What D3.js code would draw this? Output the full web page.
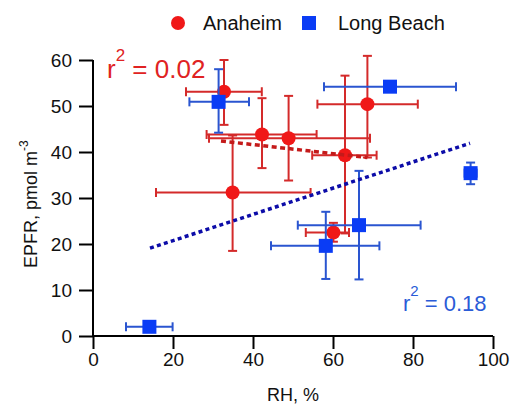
<!DOCTYPE html>
<html><head><meta charset="utf-8">
<script src="https://cdn.jsdelivr.net/npm/d3@7"></script>
<style>body{margin:0;background:#fff}svg{display:block;font-family:Arial,"Liberation Sans",sans-serif}</style>
</head><body>
<svg id="c" width="512" height="406"></svg>
<script>
// Anaheim
const anaRH    = [32.75, 42.25, 48.9, 34.9, 68.6, 63.0, 60.1];
const anaEPFR  = [53.1, 43.8, 43.0, 31.2, 50.4, 39.3, 22.5];
const anaRHlo  = [23.25, 28.4, 29.0, 15.75, 56.1, 54.8, 53.2];
const anaRHhi  = [42.2, 55.9, 69.25, 54.4, 81.2, 70.9, 64.0];
const anaEPlo  = [45.9, 36.5, 33.8, 18.5, 38.8, 22.3, 20.5];
const anaEPhi  = [60.0, 51.7, 52.2, 43.6, 60.9, 56.6, 24.6];
// Long Beach
const lbRH     = [31.4, 74.25, 94.4, 66.5, 58.2, 14.1];
const lbEPFR   = [50.9, 54.2, 35.4, 24.1, 19.6, 2.0];
const lbRHlo   = [24.1, 57.75, 92.9, 51.2, 44.5, 8.25];
const lbRHhi   = [39.0, 90.75, 95.9, 81.9, 71.6, 19.9];
const lbEPlo   = [44.2, 53.2, 33.0, 12.3, 12.4, 1.0];
const lbEPhi   = [58.0, 55.2, 37.7, 35.9, 27.0, 3.0];
// regression lines [x0, x1], [y0, y1]
const anaFitX = [32.0, 68.6], anaFitY = [42.4, 38.8];
const lbFitX  = [14.25, 94.25], lbFitY = [19.1, 41.9];
const xTicks = [0, 20, 40, 60, 80, 100];
const yTicks = [0, 10, 20, 30, 40, 50, 60];
const seriesNames = ["Anaheim", "Long Beach"];
const r2Labels = ["0.02", "0.18"];

const svg = d3.select("#c");
const x = d3.scaleLinear().domain([0, 100]).range([93, 493]);
const y = d3.scaleLinear().domain([0, 60]).range([336, 60]);

const RED = "#f01818", REDBAR = "#d42a2a", REDLINE = "#c41a1a";
const BLUE = "#0a3cf5", BLUEBAR = "#2a55d0", BLUELINE = "#0c0ca8";

// axes
const xa = svg.append("g").attr("transform", "translate(0,336)")
  .call(d3.axisBottom(x).tickValues(xTicks).tickSize(13).tickPadding(4).tickFormat(d3.format("d")));
const ya = svg.append("g").attr("transform", "translate(93,0)")
  .call(d3.axisLeft(y).tickValues(yTicks).tickSize(14).tickPadding(7).tickFormat(d3.format("d")));
[xa, ya].forEach(g => {
  g.selectAll("path.domain").attr("stroke", "#000").attr("stroke-width", 2);
  g.selectAll(".tick line").attr("stroke", "#000").attr("stroke-width", 2);
  g.selectAll(".tick text").attr("fill", "#111").style("font-size", "19px").style("font-family", "Arial, 'Liberation Sans', sans-serif");
});
xa.select("path.domain").attr("d", "M93,0H493");
ya.select("path.domain").attr("d", "M0,60V336");

// axis titles
svg.append("text").attr("x", 293).attr("y", 401).attr("text-anchor", "middle")
  .style("font-size", "18px").attr("fill", "#111").text("RH, %");
const yl = svg.append("text").attr("transform", "translate(37,268) rotate(-90)")
  .style("font-size", "18px").attr("fill", "#111");
yl.append("tspan").text("EPFR, pmol m");
yl.append("tspan").attr("dy", -9).style("font-size", "12px").text("-3");

function drawSeries(rh, ep, rlo, rhi, elo, ehi, barColor, cap) {
  const g = svg.append("g").attr("stroke", barColor).attr("stroke-width", 2).attr("fill", "none");
  rh.forEach((v, i) => {
    g.append("line").attr("x1", x(rlo[i])).attr("x2", x(rhi[i])).attr("y1", y(ep[i])).attr("y2", y(ep[i]));
    g.append("line").attr("x1", x(v)).attr("x2", x(v)).attr("y1", y(elo[i])).attr("y2", y(ehi[i]));
    [rlo[i], rhi[i]].forEach(r => g.append("line").attr("x1", x(r)).attr("x2", x(r)).attr("y1", y(ep[i]) - cap).attr("y2", y(ep[i]) + cap));
    [elo[i], ehi[i]].forEach(e => g.append("line").attr("y1", y(e)).attr("y2", y(e)).attr("x1", x(v) - cap).attr("x2", x(v) + cap));
  });
}
drawSeries(anaRH, anaEPFR, anaRHlo, anaRHhi, anaEPlo, anaEPhi, REDBAR, 4.5);
svg.append("g").selectAll("circle").data(anaRH).join("circle")
  .attr("cx", d => x(d)).attr("cy", (d, i) => y(anaEPFR[i])).attr("r", 7).attr("fill", RED);
drawSeries(lbRH, lbEPFR, lbRHlo, lbRHhi, lbEPlo, lbEPhi, BLUEBAR, 4.5);
svg.append("g").selectAll("rect").data(lbRH).join("rect")
  .attr("x", d => x(d) - 7).attr("y", (d, i) => y(lbEPFR[i]) - 7).attr("width", 14).attr("height", 14).attr("fill", BLUE);

// fit lines
svg.append("line").attr("x1", x(anaFitX[0])).attr("x2", x(anaFitX[1])).attr("y1", y(anaFitY[0])).attr("y2", y(anaFitY[1]))
  .attr("stroke", REDLINE).attr("stroke-width", 3.5).attr("stroke-dasharray", "5,3.5");
svg.append("line").attr("x1", x(lbFitX[0])).attr("x2", x(lbFitX[1])).attr("y1", y(lbFitY[0])).attr("y2", y(lbFitY[1]))
  .attr("stroke", BLUELINE).attr("stroke-width", 3.5).attr("stroke-dasharray", "4,3.3");

// r2 labels
function r2(xp, yp, fs, ss, col, val) {
  const t = svg.append("text").attr("x", xp).attr("y", yp).attr("fill", col).style("font-size", fs + "px");
  t.append("tspan").text("r");
  t.append("tspan").attr("dy", -fs * 0.66).style("font-size", ss + "px").text("2");
  t.append("tspan").attr("dy", fs * 0.66).text(" = " + val);
}
r2(107, 78, 26, 17, "#e02222", r2Labels[0]);
r2(403, 311, 22, 15, "#2a5bd7", r2Labels[1]);

// legend
svg.append("circle").attr("cx", 178).attr("cy", 23).attr("r", 7).attr("fill", RED);
svg.append("text").attr("x", 203).attr("y", 30).style("font-size", "20px").attr("fill", "#111").text(seriesNames[0]);
svg.append("rect").attr("x", 302).attr("y", 16).attr("width", 14).attr("height", 14).attr("fill", BLUE);
svg.append("text").attr("x", 338).attr("y", 30).style("font-size", "20px").attr("fill", "#111").text(seriesNames[1]);
</script>
</body></html>
